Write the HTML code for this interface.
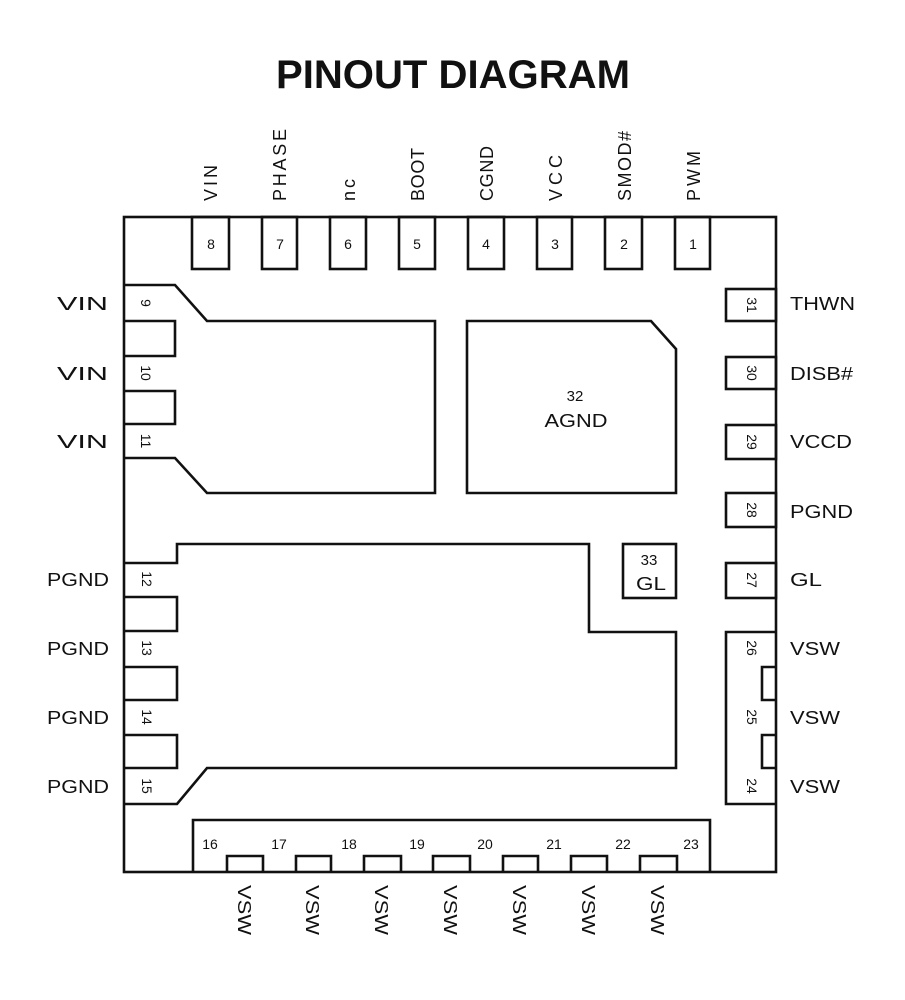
<!DOCTYPE html>
<html><head><meta charset="utf-8"><style>
html,body{margin:0;padding:0;background:#fff;}
svg{display:block;}
text{font-family:"Liberation Sans",Arial,sans-serif;fill:#111;}
</style></head><body>
<svg width="905" height="1000" viewBox="0 0 905 1000" xmlns="http://www.w3.org/2000/svg">
<rect width="905" height="1000" fill="#fff"/>
<text x="453" y="88" font-size="40" font-weight="bold" text-anchor="middle" textLength="354" lengthAdjust="spacingAndGlyphs">PINOUT DIAGRAM</text>
<g fill="none" stroke="#111" stroke-width="2.6">
<rect x="124" y="217" width="652" height="655"/>
<rect x="192" y="217" width="37" height="52"/>
<rect x="262" y="217" width="35" height="52"/>
<rect x="330" y="217" width="36" height="52"/>
<rect x="399" y="217" width="36" height="52"/>
<rect x="468" y="217" width="36" height="52"/>
<rect x="537" y="217" width="35" height="52"/>
<rect x="605" y="217" width="37" height="52"/>
<rect x="675" y="217" width="35" height="52"/>
<polyline points="124,285 175,285 207,321 435,321 435,493 207,493 175,458 124,458"/>
<polyline points="124,321 175,321 175,356 124,356"/>
<polyline points="124,391 175,391 175,424 124,424"/>
<polygon points="467,321 651,321 676,349 676,493 467,493"/>
<rect x="726" y="289" width="50" height="32"/>
<rect x="726" y="357" width="50" height="32"/>
<rect x="726" y="425" width="50" height="34"/>
<rect x="726" y="493" width="50" height="34"/>
<rect x="726" y="563" width="50" height="35"/>
<rect x="623" y="544" width="53" height="54"/>
<polyline points="124,563 177,563 177,544 589,544 589,632 676,632 676,768 207,768 177,804 124,804"/>
<polyline points="124,597 177,597 177,631 124,631"/>
<polyline points="124,667 177,667 177,700 124,700"/>
<polyline points="124,735 177,735 177,768 124,768"/>
<polyline points="776,632 726,632 726,804 776,804"/>
<polyline points="776,667 762,667 762,700 776,700"/>
<polyline points="776,735 762,735 762,768 776,768"/>
<polyline points="193,872 193,820 710,820 710,872"/>
<polyline points="227,872 227,856 263,856 263,872"/>
<polyline points="296,872 296,856 331,856 331,872"/>
<polyline points="364,872 364,856 401,856 401,872"/>
<polyline points="433,872 433,856 470,856 470,872"/>
<polyline points="503,872 503,856 538,856 538,872"/>
<polyline points="571,872 571,856 607,856 607,872"/>
<polyline points="640,872 640,856 677,856 677,872"/>
</g>
<g font-size="18" lengthAdjust="spacingAndGlyphs">
<text transform="translate(217,201) rotate(-90)" textLength="36">VIN</text>
<text transform="translate(286,201) rotate(-90)" textLength="72">PHASE</text>
<text transform="translate(355,201) rotate(-90)" textLength="22">nc</text>
<text transform="translate(424,201) rotate(-90)" textLength="53">BOOT</text>
<text transform="translate(493,201) rotate(-90)" textLength="55">CGND</text>
<text transform="translate(562,201) rotate(-90)" textLength="46">VCC</text>
<text transform="translate(631,201) rotate(-90)" textLength="70">SMOD#</text>
<text transform="translate(700,201) rotate(-90)" textLength="50">PWM</text>
</g>
<g font-size="14" text-anchor="middle">
<text x="211" y="249">8</text><text x="280" y="249">7</text><text x="348" y="249">6</text><text x="417" y="249">5</text>
<text x="486" y="249">4</text><text x="555" y="249">3</text><text x="624" y="249">2</text><text x="693" y="249">1</text>
</g>
<g font-size="18">
<text x="57" y="310" textLength="51" lengthAdjust="spacingAndGlyphs">VIN</text>
<text x="57" y="380" textLength="51" lengthAdjust="spacingAndGlyphs">VIN</text>
<text x="57" y="448" textLength="51" lengthAdjust="spacingAndGlyphs">VIN</text>
<text x="47" y="586" textLength="62" lengthAdjust="spacingAndGlyphs">PGND</text>
<text x="47" y="655" textLength="62" lengthAdjust="spacingAndGlyphs">PGND</text>
<text x="47" y="724" textLength="62" lengthAdjust="spacingAndGlyphs">PGND</text>
<text x="47" y="793" textLength="62" lengthAdjust="spacingAndGlyphs">PGND</text>
</g>
<g font-size="14" text-anchor="middle">
<text transform="translate(141,303) rotate(90)">9</text>
<text transform="translate(141,373) rotate(90)">10</text>
<text transform="translate(141,441) rotate(90)">11</text>
<text transform="translate(142,579) rotate(90)">12</text>
<text transform="translate(142,648) rotate(90)">13</text>
<text transform="translate(142,717) rotate(90)">14</text>
<text transform="translate(142,786) rotate(90)">15</text>
<text transform="translate(747,305) rotate(90)">31</text>
<text transform="translate(747,373) rotate(90)">30</text>
<text transform="translate(747,442) rotate(90)">29</text>
<text transform="translate(747,510) rotate(90)">28</text>
<text transform="translate(747,580) rotate(90)">27</text>
<text transform="translate(747,648) rotate(90)">26</text>
<text transform="translate(747,717) rotate(90)">25</text>
<text transform="translate(747,786) rotate(90)">24</text>
</g>
<g font-size="18">
<text x="790" y="310" textLength="65" lengthAdjust="spacingAndGlyphs">THWN</text>
<text x="790" y="380" textLength="63" lengthAdjust="spacingAndGlyphs">DISB#</text>
<text x="790" y="448" textLength="62" lengthAdjust="spacingAndGlyphs">VCCD</text>
<text x="790" y="518" textLength="63" lengthAdjust="spacingAndGlyphs">PGND</text>
<text x="790" y="586" textLength="32" lengthAdjust="spacingAndGlyphs">GL</text>
<text x="790" y="655" textLength="50" lengthAdjust="spacingAndGlyphs">VSW</text>
<text x="790" y="724" textLength="50" lengthAdjust="spacingAndGlyphs">VSW</text>
<text x="790" y="793" textLength="50" lengthAdjust="spacingAndGlyphs">VSW</text>
</g>
<text x="575" y="401" font-size="15" text-anchor="middle">32</text>
<text x="576" y="427" font-size="18" text-anchor="middle" textLength="63" lengthAdjust="spacingAndGlyphs">AGND</text>
<text x="649" y="565" font-size="15" text-anchor="middle">33</text>
<text x="651" y="590" font-size="18" text-anchor="middle" textLength="30" lengthAdjust="spacingAndGlyphs">GL</text>
<g font-size="14" text-anchor="middle">
<text x="210" y="849">16</text><text x="279" y="849">17</text><text x="349" y="849">18</text><text x="417" y="849">19</text>
<text x="485" y="849">20</text><text x="554" y="849">21</text><text x="623" y="849">22</text><text x="691" y="849">23</text>
</g>
<g font-size="18">
<text transform="translate(238,885) rotate(90)" textLength="50" lengthAdjust="spacingAndGlyphs">VSW</text>
<text transform="translate(306,885) rotate(90)" textLength="50" lengthAdjust="spacingAndGlyphs">VSW</text>
<text transform="translate(375,885) rotate(90)" textLength="50" lengthAdjust="spacingAndGlyphs">VSW</text>
<text transform="translate(444,885) rotate(90)" textLength="50" lengthAdjust="spacingAndGlyphs">VSW</text>
<text transform="translate(513,885) rotate(90)" textLength="50" lengthAdjust="spacingAndGlyphs">VSW</text>
<text transform="translate(582,885) rotate(90)" textLength="50" lengthAdjust="spacingAndGlyphs">VSW</text>
<text transform="translate(651,885) rotate(90)" textLength="50" lengthAdjust="spacingAndGlyphs">VSW</text>
</g>
</svg>
</body></html>
